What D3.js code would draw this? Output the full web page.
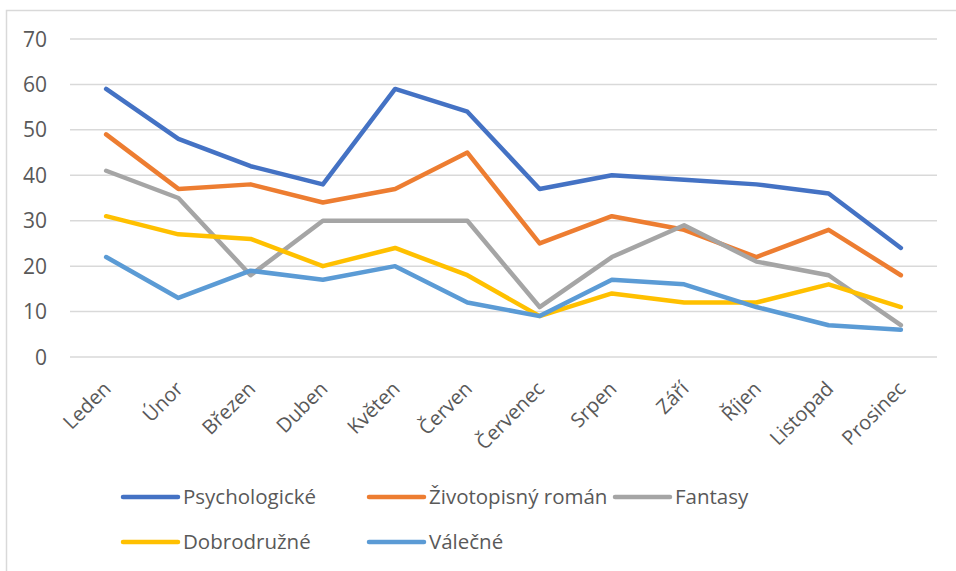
<!DOCTYPE html>
<html>
<head>
<meta charset="utf-8">
<script src="https://cdn.jsdelivr.net/npm/d3@7"></script>
<style>
  body { margin: 0; background: #fff; }
  svg text { font-family: "Open Sans", "Noto Sans", sans-serif; fill: #595959; }
</style>
</head>
<body>
<svg id="chart"></svg>
<script>
// months (x categories)
let months = ['Leden', 'Únor', 'Březen', 'Duben', 'Květen', 'Červen', 'Červenec', 'Srpen', 'Září', 'Říjen', 'Listopad', 'Prosinec'];
let seriesNames = ['Psychologické', 'Životopisný román', 'Fantasy', 'Dobrodružné', 'Válečné'];
let seriesColors = ['#4472C4', '#ED7D31', '#A5A5A5', '#FFC000', '#5B9BD5'];

let psychologicke = [59, 48, 42, 38, 59, 54, 37, 40, 39, 38, 36, 24];
let zivotopisny = [49, 37, 38, 34, 37, 45, 25, 31, 28, 22, 28, 18];
let fantasy = [41, 35, 18, 30, 30, 30, 11, 22, 29, 21, 18, 7];
let dobrodruzne = [31, 27, 26, 20, 24, 18, 9, 14, 12, 12, 16, 11];
let valecne = [22, 13, 19, 17, 20, 12, 9, 17, 16, 11, 7, 6];

let yTicks = [0, 10, 20, 30, 40, 50, 60, 70];

let allSeries = [psychologicke, zivotopisny, fantasy, dobrodruzne, valecne];

let width = 956, height = 571;
let svg = d3.select('#chart')
            .attr('width', width)
            .attr('height', height);

// chart frame
svg.append('rect')
    .attr('x', 6.5)
    .attr('y', 10.5)
    .attr('width', 980)
    .attr('height', 600)
    .attr('fill', 'none')
    .attr('stroke', '#D9D9D9')
    .attr('stroke-width', 1.5);

let plotLeft = 70, plotRight = 937;
let x = d3.scaleBand()
            .domain(months)
            .range([plotLeft, plotRight]);
let y = d3.scaleLinear()
            .domain([0, 70])
            .range([357, 39]);

// gridlines
svg.selectAll('.grid')
    .data(yTicks)
    .enter()
    .append('line')
    .classed('grid', true)
    .attr('x1', plotLeft)
    .attr('x2', plotRight)
    .attr('y1', d => y(d))
    .attr('y2', d => y(d))
    .attr('stroke', '#D9D9D9')
    .attr('stroke-width', 1.5);

// y labels
svg.selectAll('.ylab')
    .data(yTicks)
    .enter()
    .append('text')
    .classed('ylab', true)
    .attr('x', 47)
    .attr('y', d => y(d))
    .attr('dy', '0.36em')
    .attr('text-anchor', 'end')
    .attr('font-size', 21)
    .text(d => d);

// x labels, rotated
svg.selectAll('.xlab')
    .data(months)
    .enter()
    .append('text')
    .classed('xlab', true)
    .attr('text-anchor', 'end')
    .attr('font-size', 20)
    .attr('transform', d => {
        let cx = x(d) + x.bandwidth() / 2 + 6;
        return `translate(${cx},${390}) rotate(-45)`;
    })
    .text(d => d);

let line = d3.line()
            .x((d, i) => x(months[i]) + x.bandwidth() / 2)
            .y(d => y(d));

svg.selectAll('.series')
    .data(allSeries)
    .enter()
    .append('path')
    .classed('series', true)
    .attr('d', line)
    .attr('fill', 'none')
    .attr('stroke', (d, i) => seriesColors[i])
    .attr('stroke-width', 4.5)
    .attr('stroke-linejoin', 'round')
    .attr('stroke-linecap', 'round');

// legend
let legend = svg.selectAll('.legend')
                .data(seriesNames)
                .enter()
                .append('g')
                .classed('legend', true)
                .attr('transform', (d, i) => {
                    let col = i % 3, row = Math.floor(i / 3);
                    return `translate(${123 + col * 246},${497 + row * 45})`;
                });
legend.append('line')
    .attr('x1', 0)
    .attr('x2', 55)
    .attr('stroke', (d, i) => seriesColors[i])
    .attr('stroke-width', 4.5)
    .attr('stroke-linecap', 'round');
legend.append('text')
    .attr('x', 60)
    .attr('dy', '0.36em')
    .attr('font-size', 20.5)
    .text(d => d);
</script>
</body>
</html>
